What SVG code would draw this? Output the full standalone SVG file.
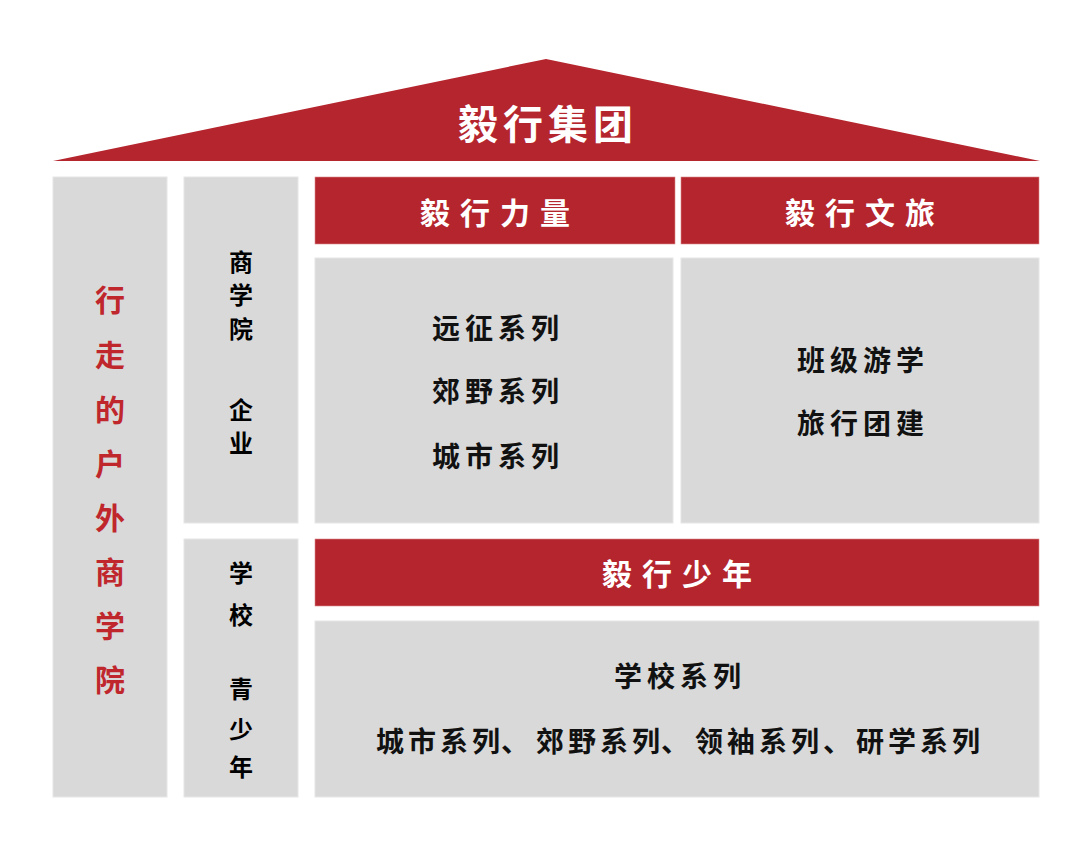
<svg xmlns="http://www.w3.org/2000/svg" width="1087" height="843" viewBox="0 0 1087 843">
<style>
.g{fill:#d9d9d9;stroke:#e6e6e6;stroke-width:1}
.r{fill:#b5252d;stroke:#d98a8e;stroke-width:0.6}
text{font-family:"Noto Sans CJK SC","Noto Sans",sans-serif;text-anchor:middle;dominant-baseline:central;font-weight:700}
.h{fill:#ffffff;font-size:30px;letter-spacing:10px}
.c{fill:#111111;font-size:28px;letter-spacing:5px;font-weight:600}
.v{fill:#c0272d;font-size:30px}
.s{fill:#000000;font-size:24px}
</style>
<rect width="1087" height="843" fill="#ffffff"/>
<g id="roof">
<polygon points="53,161 546,59 1040,161" fill="#b5252d"/>
<text x="548" y="122" style="fill:#ffffff;font-size:40px;letter-spacing:5px">毅行集团</text>
</g>
<g id="left-col">
<rect class="g" x="53" y="177" width="114" height="620"/>
<text class="v" x="110" y="298">行</text>
<text class="v" x="110" y="353">走</text>
<text class="v" x="110" y="408">的</text>
<text class="v" x="110" y="462">户</text>
<text class="v" x="110" y="516">外</text>
<text class="v" x="110" y="570">商</text>
<text class="v" x="110" y="624">学</text>
<text class="v" x="110" y="678">院</text>
</g>
<g id="business">
<rect class="g" x="184" y="177" width="114" height="346"/>
<text class="s" x="241" y="260">商</text>
<text class="s" x="241" y="293">学</text>
<text class="s" x="241" y="327">院</text>
<text class="s" x="241" y="408">企</text>
<text class="s" x="241" y="441">业</text>
</g>
<g id="school">
<rect class="g" x="184" y="539" width="114" height="258"/>
<text class="s" x="241" y="571">学</text>
<text class="s" x="241" y="613">校</text>
<text class="s" x="241" y="687">青</text>
<text class="s" x="241" y="727">少</text>
<text class="s" x="241" y="765">年</text>
</g>
<g id="power">
<rect class="r" x="315" y="177" width="360" height="67"/>
<text class="h" x="500" y="211">毅行力量</text>
<rect class="g" x="315" y="258" width="358" height="265"/>
<text class="c" x="498" y="327">远征系列</text>
<text class="c" x="498" y="390">郊野系列</text>
<text class="c" x="498" y="455">城市系列</text>
</g>
<g id="travel">
<rect class="r" x="681" y="177" width="358" height="67"/>
<text class="h" x="865" y="211">毅行文旅</text>
<rect class="g" x="681" y="258" width="358" height="265"/>
<text class="c" x="863" y="359">班级游学</text>
<text class="c" x="863" y="422">旅行团建</text>
</g>
<g id="youth">
<rect class="r" x="315" y="539" width="724" height="67"/>
<text class="h" x="682" y="572">毅行少年</text>
<rect class="g" x="315" y="621" width="724" height="176"/>
<text class="c" x="680" y="675">学校系列</text>
<text y="740" style="fill:#111111;font-size:28px;font-weight:600;letter-spacing:4px;text-anchor:start"><tspan x="376">城市系列</tspan><tspan x="501">、</tspan><tspan x="536">郊野系列</tspan><tspan x="661">、</tspan><tspan x="695">领袖系列</tspan><tspan x="823">、</tspan><tspan x="856">研学系列</tspan></text>
</g>
<g id="connectors"></g>
</svg>
